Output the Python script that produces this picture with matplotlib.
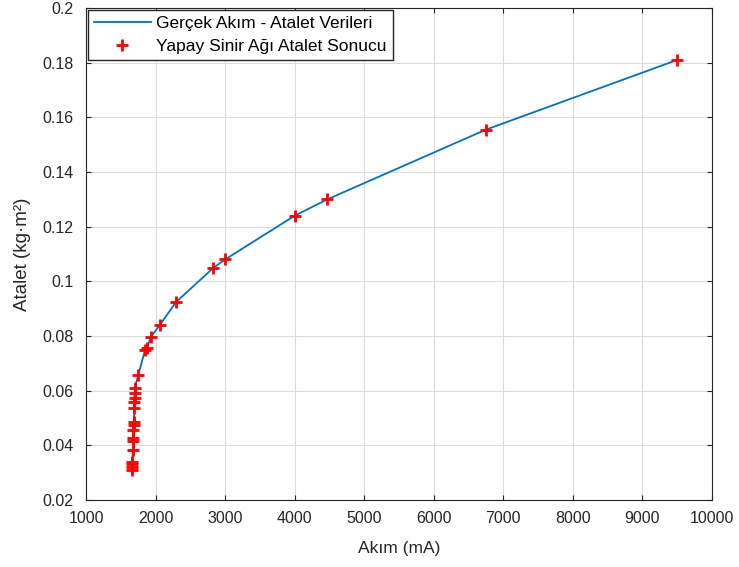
import numpy as np, matplotlib
matplotlib.use("Agg"); import matplotlib.pyplot as plt
plt.rcParams.update({"font.family":["Liberation Sans","DejaVu Sans"],"font.size":10})

# akim (mA) ve atalet (kg.m^2) degerleri
akim=[1662,1664,1666,1668,1672,1676,1678,1682,1686,1690,1693,1695,1697,1700,1702,
      1752,1850,1880,1930,2064,2294,2830,3000,4000,4470,6750,9500]
atalet=[0.031,0.032,0.033,0.034,0.0383,0.0414,0.0426,0.0456,0.0475,0.0487,0.0536,
        0.0560,0.0573,0.0591,0.0609,0.0658,0.0750,0.0757,0.0796,0.0841,0.0924,
        0.1049,0.108,0.124,0.130,0.1555,0.181]
ysa_atalet=atalet  # YSA sonucu gercek degerlerle ust uste

fig=plt.figure(figsize=(7.39,5.67),dpi=100)
ax=fig.add_axes([0.1164,0.1182,0.8471,0.8677])
ax.plot(akim,atalet,"-",color="#0072BD",lw=1.3,label="Gerçek Akım - Atalet Verileri")
ax.plot(akim,ysa_atalet,"+",color="red",ms=8,mew=2,label="Yapay Sinir Ağı Atalet Sonucu")
ax.set_xlim(1000,10000); ax.set_ylim(0.02,0.2)
ax.set_xticks(np.arange(1000,10001,1000)); ax.set_yticks(np.arange(0.02,0.201,0.02))
ax.set_yticklabels(["0.02","0.04","0.06","0.08","0.1","0.12","0.14","0.16","0.18","0.2"])
ax.grid(color="#dcdcdc",lw=0.8)
ax.tick_params(direction="in",top=True,right=True,colors="#262626",labelsize=11.5)
ax.tick_params(axis="y",pad=9); ax.tick_params(axis="x",pad=8)
for s in ax.spines.values(): s.set_color("#262626")
ax.set_xlabel("Akım (mA)",fontsize=12.5,color="#262626",labelpad=11)
ax.set_ylabel("Atalet (kg·m²)",fontsize=13.5,color="#262626",labelpad=8)
leg=ax.legend(loc="upper left",fontsize=12.5,fancybox=False,framealpha=1,edgecolor="#262626",
              borderaxespad=0.1,handlelength=3.3,handletextpad=0.3,labelspacing=0.45,borderpad=0.35)
fig.savefig("out.png",dpi=100)
